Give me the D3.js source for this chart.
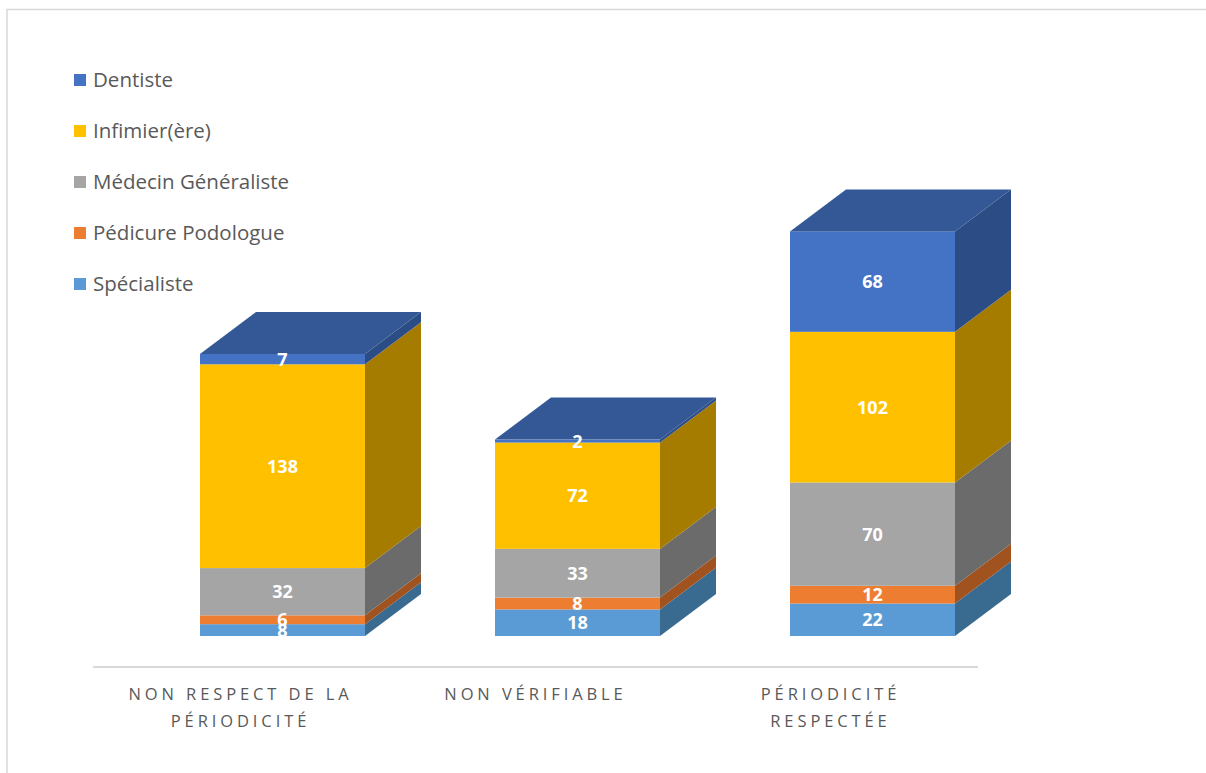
<!DOCTYPE html>
<html>
<head>
<meta charset="utf-8">
<script src="https://cdn.jsdelivr.net/npm/d3@7/dist/d3.min.js"></script>
<style>
  html, body { margin: 0; padding: 0; background: #fff; }
  svg { display: block; }
</style>
</head>
<body>
<svg id="chart" width="1206" height="773"></svg>
<script>
// Categories (x axis) and stacked series, bottom to top
const categories = ["NON RESPECT DE LA|PÉRIODICITÉ", "NON VÉRIFIABLE", "PÉRIODICITÉ|RESPECTÉE"];
const specialiste = [8, 18, 22];
const pedicure = [6, 8, 12];
const medecin = [32, 33, 70];
const infirmier = [138, 72, 102];
const dentiste = [7, 2, 68];

const seriesNames = ["Spécialiste", "Pédicure Podologue", "Médecin Généraliste", "Infimier(ère)", "Dentiste"];
const seriesValues = [specialiste, pedicure, medecin, infirmier, dentiste];
const frontColors = ["#5B9BD5", "#ED7D31", "#A5A5A5", "#FFC000", "#4472C4"];
const sideColors  = ["#396A8F", "#A0521F", "#6B6B6B", "#A67C00", "#2C4C85"];
const topColors   = ["#4A7DAD", "#C0652A", "#8A8A8A", "#D4A200", "#345896"];

const svg = d3.select("#chart");
const W = 1206, H = 773;

// chart area outline
svg.append("rect")
  .attr("x", 7).attr("y", 9.5)
  .attr("width", W + 20).attr("height", H + 20)
  .attr("fill", "none").attr("stroke", "#D9D9D9").attr("stroke-width", 1.5);

const x = d3.scaleBand().domain(categories).range([93, 978]);
const y = d3.scaleLinear().domain([0, 300]).range([636, 193]);

// 3D depth offset
const dx = 56, dy = -42;
const barOffset = 107, barWidth = 165;

// floor line
svg.append("line")
  .attr("x1", x.range()[0]).attr("x2", x.range()[1])
  .attr("y1", 667).attr("y2", 667)
  .attr("stroke", "#D9D9D9").attr("stroke-width", 2);

// stack data
const rows = categories.map((c, i) => {
  const r = { cat: c };
  seriesNames.forEach((s, k) => r[s] = seriesValues[k][i]);
  return r;
});
const stacked = d3.stack().keys(seriesNames)(rows);

const bars = svg.append("g");
categories.forEach((cat, i) => {
  const x0 = x(cat) + barOffset, x1 = x0 + barWidth;
  const g = bars.append("g");
  stacked.forEach((layer, k) => {
    const d = layer[i];
    const yb = y(d[0]), yt = y(d[1]);
    // front face
    g.append("rect")
      .attr("x", x0).attr("y", yt)
      .attr("width", barWidth).attr("height", yb - yt)
      .attr("fill", frontColors[k]);
    // right side face
    g.append("path")
      .attr("d", `M${x1},${yb}L${x1 + dx},${yb + dy}L${x1 + dx},${yt + dy}L${x1},${yt}Z`)
      .attr("fill", sideColors[k]);
    // top face for the top segment
    if (k === stacked.length - 1) {
      g.append("path")
        .attr("d", `M${x0},${yt}L${x0 + dx},${yt + dy}L${x1 + dx},${yt + dy}L${x1},${yt}Z`)
        .attr("fill", topColors[k]);
    }
  });
  // value labels
  stacked.forEach((layer, k) => {
    const d = layer[i];
    g.append("text")
      .attr("x", x0 + barWidth / 2)
      .attr("y", (y(d[0]) + y(d[1])) / 2)
      .attr("dy", "0.36em")
      .attr("text-anchor", "middle")
      .attr("font-family", "'Open Sans', sans-serif")
      .attr("font-weight", "bold")
      .attr("font-size", 18)
      .attr("fill", "#FFFFFF")
      .text(d.data[seriesNames[k]]);
  });
});

// category labels
categories.forEach(cat => {
  const lines = cat.split("|");
  const cx = x(cat) + x.bandwidth() / 2 - 2;
  const t = svg.append("text")
    .attr("x", cx)
    .attr("y", 700)
    .attr("text-anchor", "middle")
    .attr("font-family", "'Open Sans', sans-serif")
    .attr("font-size", 16.5)
    .attr("letter-spacing", "3.9px")
    .attr("fill", "#595959");
  lines.forEach((ln, j) => {
    t.append("tspan")
      .attr("x", cx + 2)
      .attr("dy", j === 0 ? 0 : 27)
      .text(ln);
  });
});

// legend (top to bottom: Dentiste first)
const legendOrder = d3.range(seriesNames.length).reverse();
const legend = svg.append("g");
legendOrder.forEach((k, j) => {
  const cy = 80 + j * 51;
  legend.append("rect")
    .attr("x", 74).attr("y", cy - 6)
    .attr("width", 12).attr("height", 12)
    .attr("fill", frontColors[k]);
  legend.append("text")
    .attr("x", 93).attr("y", cy)
    .attr("dy", "0.35em")
    .attr("font-family", "'Open Sans', sans-serif")
    .attr("font-size", 20.5)
    .attr("fill", "#595959")
    .text(seriesNames[k]);
});
</script>
</body>
</html>
